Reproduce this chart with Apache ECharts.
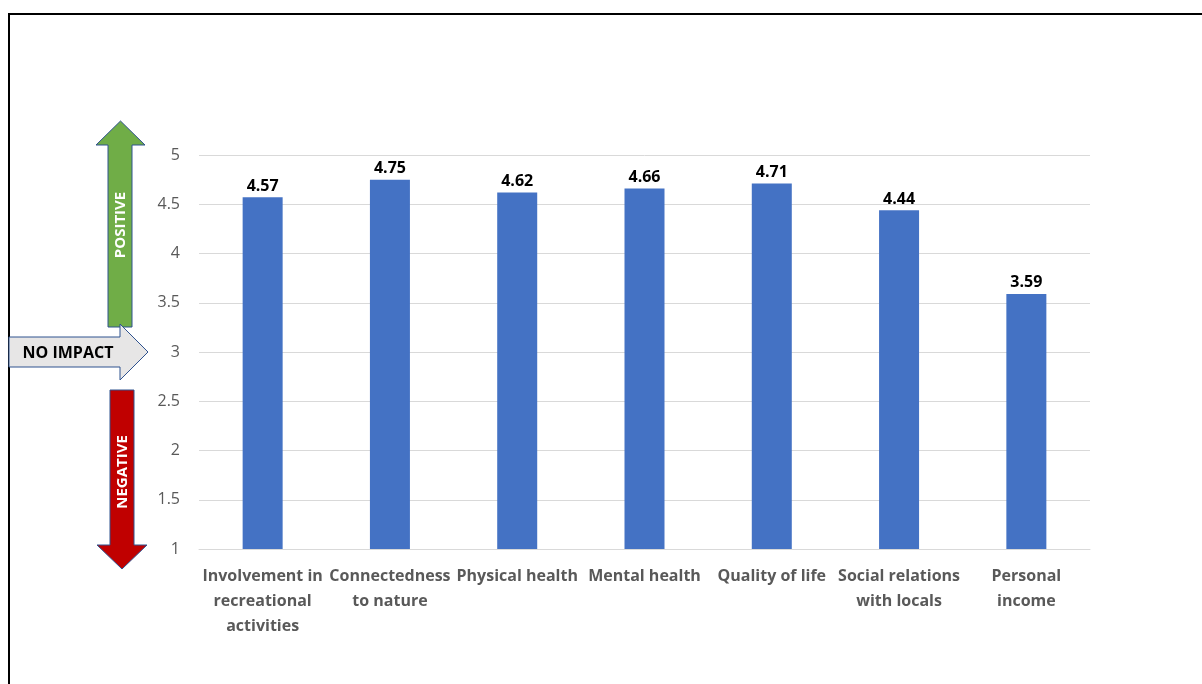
<!DOCTYPE html>
<html>
<head>
<meta charset="utf-8">
<script src="https://cdn.jsdelivr.net/npm/echarts@6/dist/echarts.min.js"></script>
<style>
  html, body { margin: 0; padding: 0; background: #fff; }
  #chart { width: 1202px; height: 684px; }
</style>
</head>
<body>
<div id="chart"></div>
<script>
// data
const categories = [
  "Involvement in\nrecreational\nactivities",
  "Connectedness\nto nature",
  "Physical health",
  "Mental health",
  "Quality of life",
  "Social relations\nwith locals",
  "Personal\nincome"
];
const meanScores = [4.57, 4.75, 4.62, 4.66, 4.71, 4.44, 3.59];
const yTicks = [1, 1.5, 2, 2.5, 3, 3.5, 4, 4.5, 5];

const font = "'Open Sans', sans-serif";
const chart = echarts.init(document.getElementById("chart"));

const options = {
  animation: false,
  textStyle: { fontFamily: font },
  grid: { left: 199, right: 112, top: 155, bottom: 135 },
  xAxis: {
    type: "category",
    data: categories,
    axisLine: { lineStyle: { color: "#d9d9d9" } },
    axisTick: { show: false },
    axisLabel: {
      interval: 0,
      margin: 15,
      color: "#595959",
      fontSize: 16,
      fontWeight: "bold",
      fontFamily: font,
      lineHeight: 25
    }
  },
  yAxis: {
    type: "value",
    min: 1,
    max: 5,
    interval: 0.5,
    axisLine: { show: false },
    axisTick: { show: false },
    splitLine: { lineStyle: { color: "#d9d9d9" } },
    axisLabel: {
      margin: 19,
      color: "#595959",
      fontSize: 16,
      fontFamily: font,
      formatter: v => (yTicks.indexOf(v) >= 0 ? String(v) : "")
    }
  },
  series: [
    {
      type: "bar",
      data: meanScores,
      barWidth: 40,
      itemStyle: { color: "#4472C4" },
      label: {
        show: true,
        position: "top",
        distance: 3,
        color: "#000",
        fontSize: 16,
        fontWeight: "bold",
        fontFamily: font,
        formatter: p => p.value.toFixed(2)
      }
    }
  ],
  graphic: [
    {
      type: "rect",
      shape: { x: 9, y: 14, width: 1200, height: 700 },
      style: { fill: "none", stroke: "#000", lineWidth: 2 }
    },
    {
      type: "polygon",
      shape: { points: [[108, 327], [108, 145], [96, 145], [120.5, 121], [145, 145], [132, 145], [132, 327]] },
      style: { fill: "#70AD47", stroke: "#2F528F", lineWidth: 1 }
    },
    {
      type: "polygon",
      shape: { points: [[110, 390], [110, 545], [97, 545], [122, 569], [147, 545], [134, 545], [134, 390]] },
      style: { fill: "#C00000", stroke: "#2F528F", lineWidth: 1 }
    },
    {
      type: "polygon",
      shape: { points: [[9, 337], [120, 337], [120, 324], [148, 352], [120, 380], [120, 367], [9, 367]] },
      style: { fill: "#E7E6E6", stroke: "#2F528F", lineWidth: 1 }
    },
    {
      type: "text",
      x: 121, y: 225, rotation: Math.PI / 2,
      style: { text: "POSITIVE", fill: "#fff", font: "bold 15px " + font, align: "center", verticalAlign: "middle" }
    },
    {
      type: "text",
      x: 123, y: 472, rotation: Math.PI / 2,
      style: { text: "NEGATIVE", fill: "#fff", font: "bold 15px " + font, align: "center", verticalAlign: "middle" }
    },
    {
      type: "text",
      x: 68, y: 353,
      style: { text: "NO IMPACT", fill: "#000", font: "bold 16px " + font, align: "center", verticalAlign: "middle" }
    }
  ]
};
chart.setOption(options);
</script>
</body>
</html>
